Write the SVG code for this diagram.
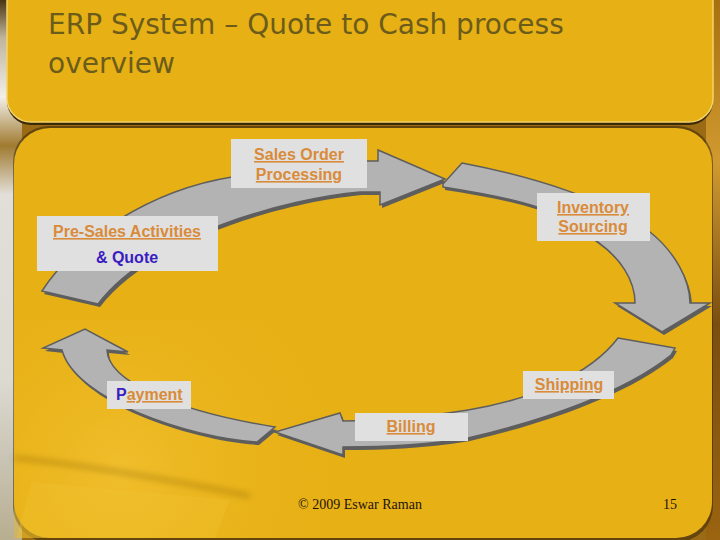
<svg xmlns="http://www.w3.org/2000/svg" width="720" height="540" viewBox="0 0 720 540">
<defs>
<style>
.lbl{font-family:"Liberation Sans",Arial,sans-serif;font-size:16px;font-weight:bold;fill:#d98b3a;text-decoration:underline}
.blue{fill:#3a1ec0;text-decoration:none}
.box{fill:#e0e0e0}
.arrow{fill:#b3b3b3;stroke:#5e5e5e;stroke-width:1.5;stroke-linejoin:miter}
.shadow{fill:#5e5e5e}
.foot{font-family:"Liberation Serif","Times New Roman",serif;font-size:14px;fill:#1e1408}
.title{font-family:"DejaVu Sans",Tahoma,sans-serif;font-size:28px;fill:#6c5c1c}
</style>
<linearGradient id="leftStrip" x1="0" y1="0" x2="0" y2="1">
<stop offset="0" stop-color="#4a3510"/>
<stop offset="0.07" stop-color="#bfb49c"/>
<stop offset="0.18" stop-color="#f2efe8"/>
<stop offset="0.27" stop-color="#a07a30"/>
<stop offset="0.36" stop-color="#e2dfd8"/>
<stop offset="0.7" stop-color="#dddad2"/>
<stop offset="0.85" stop-color="#c9c4b4"/>
<stop offset="1" stop-color="#b8ae90"/>
</linearGradient>
<linearGradient id="rightStrip" x1="0" y1="0" x2="0" y2="1">
<stop offset="0" stop-color="#a87010"/>
<stop offset="0.3" stop-color="#d09a30"/>
<stop offset="0.6" stop-color="#7a4e10"/>
<stop offset="1" stop-color="#9a6410"/>
</linearGradient>
<radialGradient id="glow" cx="120" cy="470" r="240" gradientUnits="userSpaceOnUse">
<stop offset="0" stop-color="#f3c232" stop-opacity="0.8"/>
<stop offset="1" stop-color="#e7b015" stop-opacity="0"/>
</radialGradient>
<filter id="blur" x="-20%" y="-50%" width="140%" height="200%"><feGaussianBlur stdDeviation="3"/></filter>
</defs>

<g id="background">
<rect width="720" height="540" fill="#9a6a14"/>
<rect x="0" y="0" width="22" height="540" fill="url(#leftStrip)"/>
<rect x="706" y="0" width="14" height="540" fill="url(#rightStrip)"/>
<rect x="7" y="-30" width="706" height="155" rx="24" fill="#3a2a08"/>
<rect x="7" y="-30" width="706" height="152" rx="24" fill="#e7b015" stroke="#f3d36a" stroke-width="1.5"/>
<rect x="13" y="126" width="700" height="416" rx="36" fill="#2e2008" opacity="0.5"/>
<rect x="14" y="128" width="698" height="410" rx="36" fill="#e7b015"/>
<rect x="14" y="320" width="380" height="218" fill="url(#glow)"/>
<path d="M14,458 C70,463 150,476 250,496" fill="none" stroke="#8a6410" stroke-width="4" opacity="0.45" filter="url(#blur)"/>
<path d="M32,482 L230,500 L215,538 L16,538 Z" fill="#f0c232" opacity="0.35"/>
</g>

<g id="title">
<text class="title" x="48" y="34">ERP System – Quote to Cash process</text>
<text class="title" x="48" y="73">overview</text>
</g>

<g id="connectors">
<g id="arrow-presales-to-order">
<path class="shadow" transform="translate(2,3)" d="M42,291 C75,240 150,190 232,177 L367,161 L378,161 L378,150 L445,179 L380,205 L380,192 L360,192 C290,198 150,235 98,304 Z"/>
<path class="arrow" d="M42,291 C75,240 150,190 232,177 L367,161 L378,161 L378,150 L445,179 L380,205 L380,192 L360,192 C290,198 150,235 98,304 Z"/>
</g>
<g id="arrow-inventory">
<path class="shadow" transform="translate(2,3)" d="M462,163 C530,176 610,200 650,232 C675,252 690,280 690,303 L710,303 L662,332 L615,303 L635,303 C635,280 620,258 598,242 C580,228 560,215 537,207 C510,198 475,192 443,187 L443,184 Z"/>
<path class="arrow" d="M462,163 C530,176 610,200 650,232 C675,252 690,280 690,303 L710,303 L662,332 L615,303 L635,303 C635,280 620,258 598,242 C580,228 560,215 537,207 C510,198 475,192 443,187 L443,184 Z"/>
</g>
<g id="arrow-shipping-to-billing">
<path class="shadow" transform="translate(2,3)" d="M618,338 L675,348 L671,355 C625,392 545,420 468,438 C420,446 380,447 343,447 L343,455 L275,432 L340,413 L343,421 C380,421 430,416 468,410 C530,400 590,375 618,338 Z"/>
<path class="arrow" d="M618,338 L675,348 L671,355 C625,392 545,420 468,438 C420,446 380,447 343,447 L343,455 L275,432 L340,413 L343,421 C380,421 430,416 468,410 C530,400 590,375 618,338 Z"/>
</g>
<g id="arrow-payment">
<path class="shadow" transform="translate(2,3)" d="M275,427 L257,442 C190,438 75,400 62,350 L43,348 L85,329 L128,352 L107,350 C108,380 170,410 275,427 Z"/>
<path class="arrow" d="M275,427 L257,442 C190,438 75,400 62,350 L43,348 L85,329 L128,352 L107,350 C108,380 170,410 275,427 Z"/>
</g>
</g>

<g id="node-sales-order">
<rect class="box" x="231" y="139" width="136" height="49"/>
<text class="lbl" x="299" y="160" text-anchor="middle">Sales Order</text>
<text class="lbl" x="299" y="180" text-anchor="middle">Processing</text>
</g>
<g id="node-inventory">
<rect class="box" x="537" y="193" width="113" height="48"/>
<text class="lbl" x="593" y="213" text-anchor="middle">Inventory</text>
<text class="lbl" x="593" y="232" text-anchor="middle">Sourcing</text>
</g>
<g id="node-presales">
<rect class="box" x="37" y="216" width="181" height="55"/>
<text class="lbl" x="127" y="237" text-anchor="middle">Pre-Sales Activities</text>
<text class="lbl blue" x="127" y="263" text-anchor="middle">&amp; Quote</text>
</g>
<g id="node-shipping">
<rect class="box" x="523" y="371" width="91" height="28"/>
<text class="lbl" x="569" y="390" text-anchor="middle">Shipping</text>
</g>
<g id="node-billing">
<rect class="box" x="355" y="413" width="113" height="28"/>
<text class="lbl" x="411" y="432" text-anchor="middle">Billing</text>
</g>
<g id="node-payment">
<rect class="box" x="107" y="381" width="84" height="28"/>
<text x="116" y="400" style="font-family:'Liberation Sans',Arial,sans-serif;font-size:16px;font-weight:bold"><tspan fill="#3a1ec0">P</tspan><tspan fill="#d98b3a" text-decoration="underline">ayment</tspan></text>
</g>

<g id="footer">
<text class="foot" x="360" y="509" text-anchor="middle">© 2009 Eswar Raman</text>
<text class="foot" x="663" y="509">15</text>
</g>
</svg>
